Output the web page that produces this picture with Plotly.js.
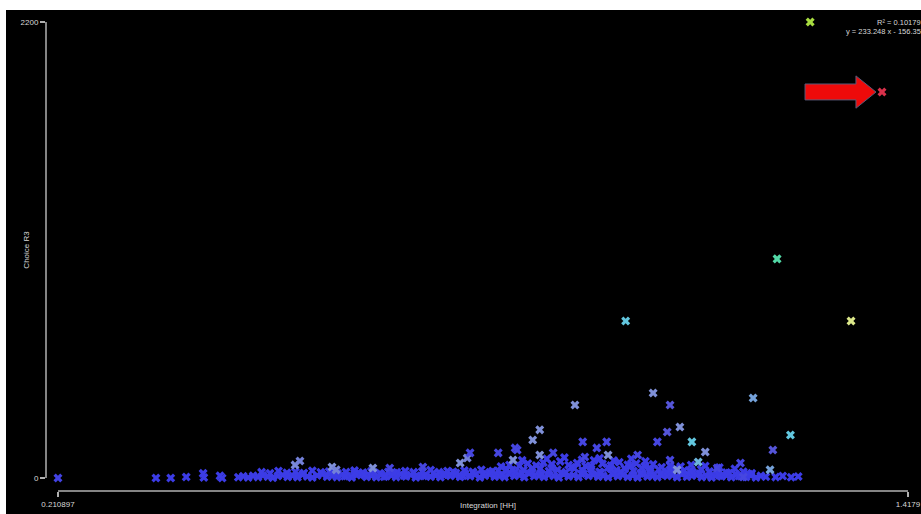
<!DOCTYPE html>
<html>
<head>
<meta charset="utf-8">
<script src="https://cdn.plot.ly/plotly-3.0.1.min.js"></script>
<style>
html,body{margin:0;padding:0;background:#ffffff;width:921px;height:514px;overflow:hidden;}
#chart{position:absolute;left:6px;top:10px;width:915px;height:504px;}
</style>
</head>
<body>
<div id="chart"></div>
<script>
// Axis extent / tick labels
const xMin = 0.210897, xMax = 1.4179;
const yMin = 0, yMax = 2200;
const xTickVals = [0.210897, 1.4179];
const xTickText = ['0.210897', '1.4179'];
const yTickVals = [0, 2200];
const yTickText = ['0', '2200'];
const xTitle = 'Integration [HH]';
const yTitle = 'Choice R3';

// Dense low band (Integration [HH], Choice R3)
const bandX = [
 0.350,0.371,0.393,0.417,0.418,0.441,0.444,
 0.467,0.474,0.481,0.488,0.495,0.502,0.509,0.516,0.523,0.530,0.537,0.544,0.551,0.558,0.565,0.572,0.579,0.586,0.593,0.600,
 0.607,0.614,0.621,0.628,0.635,0.642,0.649,0.656,0.663,0.670,0.677,0.684,0.691,0.698,0.705,0.712,0.719,0.726,0.733,0.740,
 0.747,0.754,0.761,0.768,0.775,0.782,0.789,0.796,0.803,0.810,0.817,0.824,0.831,0.838,0.845,0.852,0.859,0.866,0.873,0.880,
 0.887,0.894,0.901,0.908,0.915,0.922,0.929,0.936,0.943,0.950,0.957,0.964,0.971,0.978,0.985,0.992,0.999,1.006,1.013,1.020,
 1.027,1.034,1.041,1.048,1.055,1.062,1.069,1.076,1.083,1.090,1.097,1.104,1.111,1.118,1.125,1.132,1.139,1.146,1.153,1.160,
 1.167,1.174,1.181,1.188,1.195,1.202,1.209,1.216,1.230,1.240,1.252,1.262,
 0.500,0.512,0.524,0.536,0.548,0.560,0.572,0.584,0.596,0.608,0.620,0.632,0.644,0.656,0.668,0.680,0.692,0.704,0.716,0.728,
 0.740,0.752,0.764,0.776,0.788,0.800,0.812,0.824,0.836,0.848,0.860,0.872,0.884,0.896,0.908,0.920,0.932,0.944,0.956,0.968,
 0.980,0.992,1.004,1.016,1.028,1.040,1.052,1.064,1.076,1.088,1.100,1.112,1.124,1.136,1.148,1.160,1.172,1.184,1.196,
 0.840,0.852,0.866,0.878,0.890,0.900,0.912,0.924,0.936,0.948,0.960,0.972,0.984,0.996,1.008,1.020,1.032,1.044,1.056,1.068,
 1.080,1.095,1.110,1.130,1.150,
 0.604,0.618,0.632,0.646,0.660,0.674,0.688,0.702,0.716,0.730,0.744,0.758,0.772,0.786,0.800,0.814,0.828,0.842,0.856,0.870,
 0.884,0.898,0.912,0.926,0.940,0.954,0.968,0.982,0.996,1.010,1.024,1.038,1.052,1.066,1.080,1.094,1.108,1.122,1.136,1.150,
 1.164,1.178,1.192,
 0.870,0.905,0.930,0.955,0.980,1.000,1.025,1.045
];
const bandY = [
 0,0,5,22,2,10,0,
 3,8,2,10,4,12,6,1,9,14,5,11,3,16,7,2,12,18,6,10,
 4,15,9,2,13,20,5,11,3,17,8,12,4,19,7,14,2,10,16,6,
 12,3,18,9,13,5,20,8,15,2,11,17,6,13,4,19,9,14,3,21,
 8,12,5,16,10,2,18,7,13,4,20,9,15,6,11,3,17,8,14,5,
 12,2,18,7,10,4,16,9,13,3,19,6,11,15,4,9,2,14,7,12,
 3,17,8,5,13,2,10,6,4,9,3,7,
 28,22,33,25,30,24,35,27,31,22,29,36,26,32,23,30,27,34,25,31,
 38,28,33,24,36,30,40,27,35,42,31,38,29,45,34,40,28,47,36,43,
 30,50,38,44,33,48,35,41,30,46,36,28,42,31,38,26,44,30,22,
 55,62,58,70,60,75,66,80,62,72,58,85,68,60,76,64,70,56,66,52,
 60,55,62,58,50,
 20,8,24,14,26,6,22,12,28,9,24,16,30,11,26,19,34,14,40,22,
 45,18,48,25,52,20,56,24,44,30,58,22,46,18,40,24,34,20,28,12,
 24,10,18,
 85,92,98,88,95,84,92,80
];

// Scattered points, with a third measure used for colour
const ptX = [0.2109,0.5475,0.5545,0.600,0.606,0.658,0.682,0.729,0.782,0.792,0.796,0.836,0.860,0.857,0.863,0.885,0.895,0.895,0.914,
 0.945,0.956,0.959,0.976,0.990,0.992,1.017,1.034,1.056,1.062,1.080,1.076,1.094,1.111,1.130,1.120,1.090,1.080,1.147,1.180,1.184,
 1.198,1.226,1.222,1.251,1.232,1.337,1.279,1.381];
const ptY = [0,63,82,53,39,48,48,53,72,96,121,121,145,87,135,183,232,111,121,
 352,174,101,145,174,111,757,111,410,174,352,222,246,174,125,77,39,87,48,72,5,
 386,135,39,207,1057,757,2200,1862];
const ptZ = [0.03,0.28,0.25,0.3,0.25,0.3,0.05,0.05,0.3,0.25,0.05,0.05,0.05,0.3,0.05,0.3,0.3,0.3,0.05,
 0.3,0.05,0.05,0.05,0.05,0.3,0.45,0.05,0.3,0.05,0.12,0.12,0.3,0.45,0.3,0.4,0.3,0.05,0.05,0.05,0.05,
 0.35,0.12,0.35,0.45,0.6,0.85,0.72,1.0];

const regressionText = ['R² = 0.10179', 'y = 233.248 x - 156.35'];

const axisCol = '#b0b0b0';
const txtCol = '#d8d8d8';
const fnt = 'Liberation Sans, Arial, sans-serif';

const xPad = 0.017, yPad = 63;

const traces = [
 {type:'scatter', mode:'markers', x:bandX, y:bandY, cliponaxis:false, hoverinfo:'skip',
  marker:{symbol:'x', size:8, color:'#3c3ce6', line:{width:0}}},
 {type:'scatter', mode:'markers', x:ptX, y:ptY, cliponaxis:false,
  marker:{symbol:'x', size:8, color:ptZ, cmin:0, cmax:1, line:{width:0},
   colorscale:[[0,'#3c3ce6'],[0.12,'#5555d8'],[0.3,'#7f90d8'],[0.45,'#62c6de'],[0.6,'#52d8a6'],[0.72,'#a8dc40'],[0.85,'#dce88a'],[1,'#d8304a']]}}
];

const layout = {
 width:915, height:504,
 paper_bgcolor:'#000000', plot_bgcolor:'#000000',
 margin:{l:40, r:13, t:12, b:23},
 showlegend:false,
 xaxis:{range:[xMin - xPad, xMax], showgrid:false, zeroline:false, showline:false,
  tickmode:'array', tickvals:xTickVals, ticktext:xTickText, ticks:'outside', ticklen:5, tickcolor:axisCol, tickwidth:1.5,
  tickfont:{family:fnt, size:8, color:txtCol}},
 yaxis:{range:[yMin - yPad, yMax], showgrid:false, zeroline:false, showline:false,
  tickmode:'array', tickvals:yTickVals, ticktext:yTickText, ticks:'outside', ticklen:5, tickcolor:axisCol, tickwidth:1.5,
  tickfont:{family:fnt, size:8, color:txtCol}},
 shapes:[
  {type:'line', xref:'x', yref:'paper', x0:xMin, x1:xMax, y0:0, y1:0, line:{color:axisCol, width:1.5}},
  {type:'line', xref:'paper', yref:'y', x0:0, x1:0, y0:yMin, y1:yMax, line:{color:axisCol, width:1.5}},
  {type:'path', xref:'x', yref:'y', fillcolor:'#ee0a0a', line:{color:'#5a5a78', width:1},
   path:'M 1.2717 1901 L 1.3440 1901 L 1.3440 1940 L 1.3725 1862 L 1.3440 1784 L 1.3440 1824 L 1.2717 1824 Z'}
 ],
 annotations:[
  {xref:'paper', yref:'paper', x:1.017, y:1.0, xanchor:'right', yanchor:'middle', showarrow:false,
   text:regressionText[0], font:{family:fnt, size:7.5, color:txtCol}},
  {xref:'paper', yref:'paper', x:1.017, y:0.979, xanchor:'right', yanchor:'middle', showarrow:false,
   text:regressionText[1], font:{family:fnt, size:7.5, color:txtCol}},
  {xref:'paper', yref:'paper', x:0.513, y:-0.030, xanchor:'center', yanchor:'middle', showarrow:false,
   text:xTitle, font:{family:fnt, size:8, color:txtCol}},
  {xref:'paper', yref:'paper', x:-0.023, y:0.515, xanchor:'center', yanchor:'middle', showarrow:false, textangle:-90,
   text:yTitle, font:{family:fnt, size:8, color:txtCol}}
 ]
};

Plotly.newPlot('chart', traces, layout, {staticPlot:true, displayModeBar:false});
</script>
</body>
</html>
